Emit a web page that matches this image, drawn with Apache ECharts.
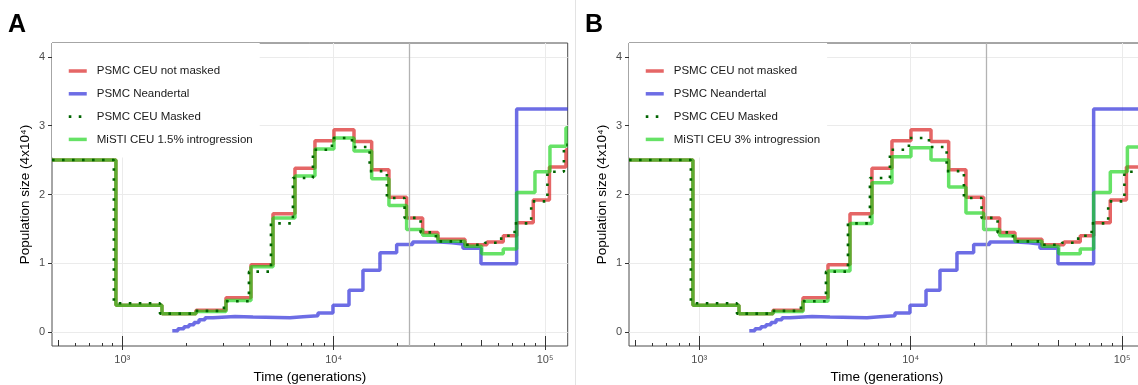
<!DOCTYPE html>
<html><head><meta charset="utf-8">
<script src="https://cdn.jsdelivr.net/npm/echarts@6/dist/echarts.min.js"></script>
<style>html,body{margin:0;padding:0;background:#fff}#c{width:1138px;height:385px}</style>
</head><body><div id="c"></div>
<script>
// ---------- data (time in generations, population size in units of 4x10^4) ----------
const redTimes   = [465, 933, 1541, 2232, 3094, 4062, 5164, 6560, 8156, 10030, 12480, 15130, 18260, 22140, 26360, 31140, 41800, 53120, 63430, 73390, 87940, 104900, 125600, 128000];
const redValues  = [2.5, 0.39, 0.27, 0.32, 0.50, 0.98, 1.72, 2.38, 2.78, 2.94, 2.77, 2.36, 1.96, 1.66, 1.45, 1.35, 1.27, 1.31, 1.40, 1.59, 1.92, 2.40, 2.65, 2.65];

const blueTimes  = [1724, 1834, 1958, 2068, 2184, 2306, 2462, 2686, 3413, 4152, 6214, 7158, 8428, 9925, 11820, 13760, 16560, 19860, 23640, 31840, 36270, 40890, 49760, 73390, 128000];
const blueValues = [0.02, 0.05, 0.08, 0.11, 0.14, 0.18, 0.21, 0.23, 0.22, 0.21, 0.225, 0.24, 0.28, 0.39, 0.61, 0.90, 1.155, 1.275, 1.31, 1.30, 1.28, 1.22, 0.995, 3.24, 3.24];

const dotTimes   = [465, 912, 1508, 2183, 3026, 3973, 5050, 6416, 7977, 9810, 12206, 14797, 17858, 21653, 25780, 30455, 40880, 51950, 62030, 71780, 86000, 102600, 122800, 128000];
const dotValues  = [2.5, 0.42, 0.27, 0.31, 0.45, 0.88, 1.58, 2.24, 2.65, 2.82, 2.69, 2.34, 1.95, 1.66, 1.45, 1.32, 1.27, 1.30, 1.40, 1.58, 1.90, 2.33, 2.72, 2.72];

const greenATimes  = [465, 933, 1541, 2232, 3094, 4062, 5164, 6560, 8156, 10030, 12480, 15130, 18260, 22140, 26360, 31140, 41800, 50130, 63430, 73390, 89600, 105500, 125600, 128000];
const greenAValues = [2.5, 0.39, 0.27, 0.30, 0.46, 0.95, 1.66, 2.27, 2.66, 2.82, 2.63, 2.23, 1.84, 1.49, 1.41, 1.32, 1.25, 1.14, 1.21, 2.03, 2.33, 2.70, 2.97, 2.97];

const greenBTimes  = [465, 933, 1541, 2232, 3094, 4062, 5164, 6560, 8156, 10030, 12480, 15130, 18260, 22140, 26360, 31140, 41800, 50130, 63430, 73390, 88000, 106000, 128000];
const greenBValues = [2.5, 0.39, 0.27, 0.30, 0.45, 0.89, 1.58, 2.17, 2.55, 2.68, 2.50, 2.11, 1.73, 1.49, 1.40, 1.32, 1.25, 1.14, 1.21, 2.03, 2.33, 2.69, 2.69];

const vlineTime = 22900;
const timeMin = 465, timeMax = 128000;
const yMin = -0.2, yMax = 4.2;
const yTicks = [0, 1, 2, 3, 4];
const majorTicks = [1000, 10000, 100000];
const midTicks = [500, 5000, 50000];
const minorTicks = [600, 700, 800, 900, 2000, 3000, 4000, 6000, 7000, 8000, 9000, 20000, 30000, 40000, 60000, 70000, 80000, 90000];

const nameRed = 'PSMC CEU not masked', nameBlue = 'PSMC Neandertal', nameDot = 'PSMC CEU Masked';
const nameGreenA = 'MiSTI CEU 1.5% introgression', nameGreenB = 'MiSTI CEU 3% introgression';

// ---------- styling ----------
const FONT = 'Liberation Sans, Arial, sans-serif';
const cRed = 'rgba(215,20,20,0.65)', cBlue = 'rgba(30,30,215,0.65)', cGreen = 'rgba(20,210,20,0.65)', cDot = '#006400';
const sup = {3: '\u00b3', 4: '\u2074', 5: '\u2075'};
const gridLeft = [52, 629];

function pairs(t, v) { return t.map((x, i) => [x, v[i]]); }
const lg = Math.log10;

const grids = [], xAxes = [], yAxes = [], series = [], legends = [];

[0, 1].forEach(g => {
  grids.push({left: gridLeft[g], top: 43, width: 515.7, height: 303, show: true,
    borderColor: '#4d4d4d', borderWidth: 1, backgroundColor: 'transparent',
    containLabel: false, outerBoundsMode: 'none'});
  // series axis (log)
  xAxes.push({type: 'log', logBase: 10, gridIndex: g, position: 'bottom', min: timeMin, max: timeMax, show: false});
  const base = {type: 'value', gridIndex: g, position: 'bottom', min: lg(timeMin), max: lg(timeMax),
    axisLine: {show: false}, axisLabel: {show: false}, splitLine: {show: false}};
  // major ticks outside + labels + grid lines
  xAxes.push(Object.assign({}, base, {
    name: 'Time (generations)', nameLocation: 'middle', nameGap: 22,
    nameTextStyle: {fontSize: 13.5, color: '#000', fontFamily: FONT},
    axisTick: {show: true, inside: false, length: 4, lineStyle: {color: '#333', width: 1}, customValues: majorTicks.map(lg)},
    axisLabel: {show: true, margin: 8, fontSize: 11, color: '#4d4d4d', fontFamily: FONT,
      customValues: majorTicks.map(lg), formatter: v => '10' + sup[Math.round(v)]},
    splitLine: {show: true, lineStyle: {color: '#ebebeb', width: 1}}
  }));
  // log ticks inside: long, mid, short
  xAxes.push(Object.assign({}, base, {axisTick: {show: true, inside: true, length: 10, lineStyle: {color: '#333', width: 1}, customValues: majorTicks.map(lg)}}));
  xAxes.push(Object.assign({}, base, {axisTick: {show: true, inside: true, length: 6, lineStyle: {color: '#333', width: 1}, customValues: midTicks.map(lg)}}));
  xAxes.push(Object.assign({}, base, {axisTick: {show: true, inside: true, length: 3, lineStyle: {color: '#333', width: 1}, customValues: minorTicks.map(lg)}}));

  yAxes.push({type: 'value', gridIndex: g, min: yMin, max: yMax,
    name: 'Population size (4x10\u2074)', nameLocation: 'middle', nameGap: 20, nameRotate: 90,
    nameTextStyle: {fontSize: 13.5, color: '#000', fontFamily: FONT},
    axisLine: {show: false},
    axisTick: {show: true, length: 4, lineStyle: {color: '#333'}, customValues: yTicks},
    axisLabel: {show: true, margin: 7, fontSize: 11, color: '#4d4d4d', fontFamily: FONT, customValues: yTicks},
    splitLine: {show: true, lineStyle: {color: '#ebebeb', width: 1}}
  });

  const xi = g * 5, yi = g;
  const greenName = g === 0 ? nameGreenA : nameGreenB;
  const greenData = g === 0 ? pairs(greenATimes, greenAValues) : pairs(greenBTimes, greenBValues);
  const common = {type: 'line', step: 'end', xAxisIndex: xi, yAxisIndex: yi, symbol: 'none', showSymbol: false, clip: true, silent: true};
  series.push(Object.assign({}, common, {name: nameRed, data: pairs(redTimes, redValues),
    lineStyle: {color: cRed, width: 3.5}, itemStyle: {color: cRed},
    markLine: {silent: true, symbol: ['none', 'none'], label: {show: false},
      lineStyle: {color: '#b3b3b3', width: 1.3, type: 'solid'}, data: [{xAxis: vlineTime}]}}));
  series.push(Object.assign({}, common, {name: nameBlue, data: pairs(blueTimes, blueValues),
    lineStyle: {color: cBlue, width: 3.5}, itemStyle: {color: cBlue}}));
  series.push(Object.assign({}, common, {name: greenName, data: greenData,
    lineStyle: {color: cGreen, width: 3.5}, itemStyle: {color: cGreen}}));
  series.push(Object.assign({}, common, {name: nameDot, data: pairs(dotTimes, dotValues),
    lineStyle: {color: cDot, width: 2.6, type: [2.6, 7.4], cap: 'butt'}, itemStyle: {color: cDot}}));

  legends.push({left: gridLeft[g], top: 43, orient: 'vertical', backgroundColor: '#fff',
    padding: [22, 7, 12, 15], itemGap: 10.8, itemWidth: 18, itemHeight: 12,
    selectedMode: false, itemStyle: {opacity: 0},
    textStyle: {fontSize: 11.5, color: '#1a1a1a', fontFamily: FONT, padding: [0, 0, 0, 5]},
    data: [
      {name: nameRed, lineStyle: {width: 3.5}},
      {name: nameBlue, lineStyle: {width: 3.5}},
      {name: nameDot, lineStyle: {width: 2.8}},
      {name: greenName, lineStyle: {width: 3.5}}
    ]});
});

const chart = echarts.init(document.getElementById('c'), null, {renderer: 'canvas'});
chart.setOption({
  animation: false,
  backgroundColor: '#fff',
  textStyle: {fontFamily: FONT},
  grid: grids, xAxis: xAxes, yAxis: yAxes, series: series, legend: legends,
  graphic: [
    {type: 'text', left: 8, top: 13, style: {text: 'A', font: 'bold 25px ' + FONT, fill: '#000'}},
    {type: 'text', left: 585, top: 13, style: {text: 'B', font: 'bold 25px ' + FONT, fill: '#000'}},
    {type: 'line', shape: {x1: 575.5, y1: 0, x2: 575.5, y2: 385}, style: {stroke: '#e3e3e3', lineWidth: 1}}
  ]
});
</script>
</body></html>
